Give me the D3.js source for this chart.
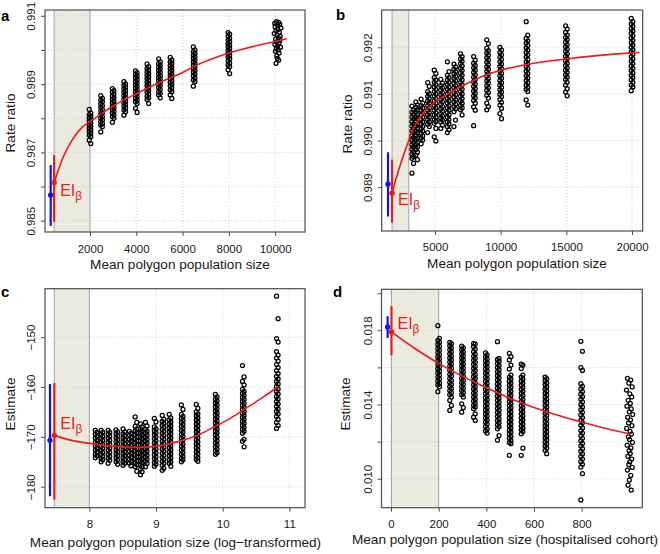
<!DOCTYPE html>
<html><head><meta charset="utf-8">
<script src="https://cdn.jsdelivr.net/npm/d3@7"></script>
<style>body{margin:0;background:#fff}svg{display:block}</style>
</head><body>
<svg id="chart" width="660" height="554"></svg>
<script>
// ---------------- DATA ----------------
// Panel a
const aX = [2000, 2500, 3000, 3500, 4000, 4500, 5000, 5500, 6500, 8000,
  [10050,10150,9980,10200,10100,10000,10250,10120,10040,10180,9960,10080,10220,10140,10020,10200,10060,10160,9990,10110,10230,10050,10130,10010,10170,10070,10090,10150,10040]];
const aY = [
  [0.98826,0.98815,0.98811,0.98806,0.98801,0.98796,0.98791,0.98786,0.98781,0.98776,0.98771,0.98766,0.98761,0.98756,0.98751,0.98746,0.98736,0.98726],
  [0.98866,0.98858,0.98853,0.98848,0.98842,0.98837,0.98832,0.98826,0.98821,0.98816,0.98811,0.98805,0.988,0.98795,0.9879,0.98785,0.9878,0.98775,0.9876],
  [0.98887,0.98881,0.98876,0.98871,0.98865,0.9886,0.98855,0.9885,0.98845,0.9884,0.98835,0.9883,0.98825,0.9882,0.98815,0.9881,0.98805,0.988,0.98788],
  [0.98907,0.98901,0.98896,0.98891,0.98886,0.98881,0.98876,0.98871,0.98866,0.9886,0.98855,0.9885,0.98845,0.9884,0.98835,0.9883,0.98824,0.98819,0.98809],
  [0.98939,0.98933,0.98928,0.98923,0.98918,0.98913,0.98908,0.98903,0.98898,0.98893,0.98888,0.98883,0.98878,0.98873,0.98868,0.98863,0.98858,0.98853,0.98848,0.98843,0.98829,0.98817],
  [0.98959,0.98951,0.98946,0.98941,0.98936,0.98931,0.98926,0.98921,0.98916,0.98911,0.98906,0.98901,0.98896,0.98891,0.98886,0.98881,0.98876,0.9887,0.98865,0.9886,0.98855,0.98843],
  [0.98974,0.98965,0.9896,0.98955,0.9895,0.98945,0.9894,0.98935,0.9893,0.98925,0.9892,0.98915,0.9891,0.98905,0.989,0.98895,0.9889,0.98884,0.98878,0.98873,0.98868,0.9886],
  [0.98978,0.9897,0.98965,0.9896,0.98955,0.9895,0.98945,0.9894,0.98935,0.9893,0.98925,0.9892,0.98915,0.9891,0.98905,0.989,0.98895,0.98889,0.98883,0.98878,0.98868,0.98858],
  [0.99009,0.99,0.98995,0.9899,0.98985,0.9898,0.98975,0.9897,0.98965,0.9896,0.98955,0.9895,0.98945,0.9894,0.98935,0.9893,0.98924,0.98918,0.98912,0.98907,0.98894],
  [0.99051,0.99046,0.9904,0.99034,0.99029,0.99024,0.99019,0.99014,0.99009,0.99004,0.98999,0.98994,0.98989,0.98984,0.98979,0.98974,0.98968,0.98962,0.98956,0.98951,0.98942,0.98931],
  [0.99083,0.99081,0.99078,0.99076,0.99072,0.99068,0.99064,0.9906,0.99056,0.99052,0.99048,0.99044,0.9904,0.99036,0.99032,0.99028,0.99024,0.9902,0.99016,0.99012,0.99008,0.99004,0.99,0.98996,0.98991,0.98983,0.98975,0.9897,0.98961]
];
const aCurve = [[450,0.98612],[844,0.98687],[1276,0.98741],[1712,0.98777],[2000,0.9879],[3000,0.98836],[4000,0.98872],[5000,0.98905],[6000,0.98934],[6500,0.98952],[8000,0.98991],[10000,0.99025],[10500,0.99033]];
const aRed = [450, 0.98612, 0.98497, 0.98692];   // x, estimate, low, high
const aBlue = [300, 0.98575, 0.98485, 0.98663];
const aShade = [450, 2000];
const aXTicks = [2000, 4000, 6000, 8000, 10000];
const aYTicks = [0.985, 0.986, 0.987, 0.988, 0.989, 0.990, 0.991];
const aYLabels = [0.985, 0.987, 0.989, 0.991];

// Panel b
const bX = [3300, 3600, 4000, 4500, 5000, 5500, 6000, 6500, 7000, 8000, 9000, 10000, 12000, 15000, 20000];
const bY = [
  [0.99074,0.99066,0.99061,0.99056,0.99051,0.99046,0.99041,0.99036,0.99031,0.99026,0.99021,0.99016,0.99011,0.99006,0.99001,0.98996,0.98991,0.98986,0.98981,0.98976,0.98971,0.98966,0.98962,0.98951,0.9893],
  [0.99083,0.99076,0.99071,0.99066,0.99061,0.99056,0.99051,0.99046,0.99041,0.99036,0.99031,0.99026,0.99021,0.99016,0.99011,0.99006,0.99001,0.98996,0.98991,0.98986,0.98981,0.98975,0.98969,0.98959],
  [0.99089,0.9908,0.99075,0.9907,0.99065,0.9906,0.99055,0.9905,0.99045,0.9904,0.99035,0.9903,0.99025,0.9902,0.99015,0.9901,0.99005,0.99001,0.98993],
  [0.99124,0.99116,0.99105,0.991,0.99095,0.9909,0.99085,0.9908,0.99075,0.9907,0.99065,0.9906,0.99055,0.9905,0.99045,0.9904,0.99035,0.9903,0.99017],
  [0.99151,0.99144,0.99135,0.9913,0.99125,0.9912,0.99115,0.9911,0.99105,0.991,0.99095,0.9909,0.99085,0.9908,0.99075,0.9907,0.99065,0.9906,0.99055,0.9905,0.99045,0.99041,0.99037,0.99026,0.99008,0.98999],
  [0.99131,0.99123,0.99118,0.99113,0.99108,0.99103,0.99098,0.99093,0.99088,0.99083,0.99078,0.99073,0.99068,0.99063,0.99058,0.99053,0.99048,0.99044,0.9904,0.99033,0.99026],
  [0.99169,0.99148,0.9914,0.99135,0.9913,0.99125,0.9912,0.99115,0.9911,0.99105,0.991,0.99095,0.9909,0.99085,0.9908,0.99075,0.9907,0.99065,0.9906,0.99055,0.9905,0.99045,0.9904,0.99035,0.9903,0.99023,0.99017],
  [0.99164,0.99158,0.99153,0.99148,0.99143,0.99138,0.99133,0.99128,0.99123,0.99118,0.99113,0.99108,0.99103,0.99098,0.99093,0.99088,0.99083,0.99078,0.99073,0.99068,0.99062,0.99044,0.9903],
  [0.99186,0.9918,0.99175,0.9917,0.99165,0.9916,0.99155,0.9915,0.99145,0.9914,0.99135,0.9913,0.99125,0.9912,0.99115,0.9911,0.99105,0.991,0.99095,0.9909,0.99085,0.9908,0.99075,0.9907,0.99066,0.99055],
  [0.9918,0.99172,0.99166,0.99161,0.99156,0.99151,0.99146,0.99141,0.99136,0.99131,0.99126,0.99121,0.99116,0.99111,0.99106,0.99101,0.99096,0.99091,0.99086,0.9908,0.99072,0.99065,0.99032],
  [0.99216,0.99208,0.99198,0.99193,0.99188,0.99183,0.99178,0.99173,0.99168,0.99163,0.99158,0.99153,0.99148,0.99143,0.99138,0.99133,0.99128,0.99123,0.99118,0.99113,0.99108,0.99103,0.99097,0.99091,0.9908,0.99073,0.99066],
  [0.992,0.99194,0.99189,0.99184,0.99179,0.99174,0.99169,0.99164,0.99159,0.99154,0.99149,0.99144,0.99139,0.99134,0.99129,0.99124,0.99119,0.99114,0.99109,0.99104,0.99099,0.99094,0.99088,0.99082,0.99076,0.99069,0.99058,0.99047],
  [0.99255,0.99226,0.99219,0.99214,0.99209,0.99204,0.99199,0.99194,0.99189,0.99184,0.99179,0.99174,0.99169,0.99164,0.99159,0.99154,0.99149,0.99144,0.99139,0.99134,0.99129,0.99124,0.99119,0.99114,0.9911,0.99105,0.99087,0.99076],
  [0.99246,0.99239,0.99232,0.99226,0.99221,0.99216,0.99211,0.99206,0.99201,0.99196,0.99191,0.99186,0.99181,0.99176,0.99171,0.99166,0.99161,0.99156,0.99151,0.99146,0.99141,0.99136,0.99131,0.99125,0.99119,0.99111,0.99104,0.99096],
  [0.99262,0.99255,0.9925,0.99245,0.9924,0.99235,0.9923,0.99225,0.9922,0.99215,0.9921,0.99205,0.992,0.99195,0.9919,0.99185,0.9918,0.99175,0.9917,0.99165,0.9916,0.99155,0.9915,0.99145,0.9914,0.99135,0.9913,0.99125,0.99119,0.99115,0.99107]
];
const bCurve = [[1726,0.98887],[2000,0.98915],[2400,0.98952],[2717,0.98978],[3000,0.99],[3272,0.99021],[3935,0.99052],[5000,0.99083],[6000,0.991],[7000,0.99116],[8000,0.9913],[9000,0.99142],[10000,0.99151],[12000,0.99163],[15000,0.99175],[20000,0.99188],[20550,0.99189]];
const bRed = [1726, 0.98887, 0.98824, 0.98959];
const bBlue = [1421, 0.98907, 0.98837, 0.98975];
const bShade = [1726, 3000];
const bXTicks = [5000, 10000, 15000, 20000];
const bYTicks = [0.989, 0.990, 0.991, 0.992];
const bYLabels = [0.989, 0.990, 0.991, 0.992];

// Panel c (x = log of mean polygon population size)
const cPop = [3300, 3600, 4000, 4500, 5000, 5500, 6000, 6500, 7000, 8000, 9000, 10000, 12000, 15000, 20000, 30000, 50000];
const cY = [
  [-168.7,-169.1,-169.5,-169.9,-170.3,-170.7,-171.1,-171.5,-171.9,-172.3,-172.7,-173.1,-173.5,-173.8,-174.2],
  [-168.7,-169.1,-169.5,-169.9,-170.3,-170.7,-171.1,-171.5,-171.9,-172.3,-172.7,-173.1,-173.5,-173.9,-174.3,-174.6,-175.0],
  [-168.7,-169.1,-169.5,-169.9,-170.3,-170.7,-171.1,-171.5,-171.9,-172.3,-172.7,-173.1,-173.5,-173.9,-174.3,-174.7,-175.3],
  [-168.6,-169.0,-169.4,-169.8,-170.2,-170.6,-171.0,-171.4,-171.8,-172.2,-172.6,-173.0,-173.4,-173.8,-174.2,-174.6,-175.0,-175.5],
  [-168.4,-169.0,-169.4,-169.8,-170.2,-170.6,-171.0,-171.4,-171.8,-172.2,-172.6,-173.0,-173.4,-173.8,-174.2,-174.6,-175.0,-175.3,-175.7],
  [-168.9,-169.3,-169.7,-170.1,-170.5,-170.9,-171.3,-171.7,-172.1,-172.5,-172.9,-173.3,-173.7,-174.1,-174.5,-174.9,-175.3,-175.8],
  [-166.0,-167.1,-167.9,-168.4,-168.8,-169.2,-169.6,-170.0,-170.4,-170.8,-171.2,-171.6,-172.0,-172.4,-172.8,-173.2,-173.6,-174.0,-174.4,-174.8,-175.2,-175.6,-176.0,-176.9],
  [-167.4,-168.0,-168.4,-168.8,-169.2,-169.6,-170.0,-170.4,-170.8,-171.2,-171.6,-172.0,-172.4,-172.8,-173.2,-173.6,-174.0,-174.4,-174.8,-175.2,-175.6,-176.0,-176.5,-177.0,-177.6],
  [-167.1,-167.8,-168.5,-168.9,-169.3,-169.7,-170.1,-170.5,-170.9,-171.3,-171.7,-172.1,-172.5,-172.9,-173.3,-173.7,-174.1,-174.5,-174.9,-175.3,-176.0],
  [-166.3,-167.0,-168.0,-168.4,-168.8,-169.2,-169.6,-170.0,-170.4,-170.8,-171.2,-171.6,-172.0,-172.4,-172.8,-173.2,-173.6,-174.0,-174.4,-174.8,-175.2,-175.5,-175.9],
  [-165.7,-166.5,-166.9,-167.3,-167.7,-168.1,-168.5,-168.9,-169.3,-169.7,-170.1,-170.5,-170.9,-171.3,-171.7,-172.1,-172.5,-172.9,-173.3,-173.7,-174.1,-174.5,-174.9,-175.3,-175.7,-176.3,-176.7],
  [-165.5,-166.2,-166.6,-167.0,-167.4,-167.8,-168.2,-168.6,-169.0,-169.4,-169.8,-170.2,-170.6,-171.0,-171.4,-171.8,-172.2,-172.6,-173.0,-173.4,-173.8,-174.2,-174.6,-175.0,-175.3,-175.9],
  [-163.6,-164.5,-165.5,-165.9,-166.3,-166.7,-167.1,-167.5,-167.9,-168.3,-168.7,-169.1,-169.5,-169.9,-170.3,-170.7,-171.1,-171.5,-171.9,-172.3,-172.7,-173.1,-173.5,-173.9,-174.3,-174.6,-175.0],
  [-163.5,-164.3,-165.0,-165.4,-165.8,-166.2,-166.6,-167.0,-167.4,-167.8,-168.2,-168.6,-169.0,-169.4,-169.8,-170.2,-170.6,-171.0,-171.4,-171.8,-172.2,-172.6,-173.0,-173.4,-173.8,-174.2,-174.5,-174.9],
  [-161.5,-162.0,-162.4,-162.8,-163.2,-163.6,-164.0,-164.4,-164.8,-165.2,-165.6,-166.0,-166.4,-166.8,-167.2,-167.6,-168.0,-168.4,-168.8,-169.2,-169.6,-170.0,-170.4,-170.8,-171.2,-171.6,-172.0,-172.4,-172.8,-173.2,-173.5],
  [-155.7,-158.0,-158.9,-159.6,-160.5,-160.9,-161.3,-161.7,-162.1,-162.5,-162.9,-163.3,-163.7,-164.1,-164.5,-164.9,-165.3,-165.7,-166.1,-166.5,-166.9,-167.3,-167.7,-168.1,-168.5,-168.9,-169.3,-170.5,-170.9,-172.0],
  [-141.8,-146.3,-150.3,-151.0,-152.9,-153.6,-154.2,-154.8,-155.5,-156.1,-156.7,-157.3,-157.9,-158.4,-158.9,-159.4,-159.9,-160.4,-160.9,-161.4,-161.9,-162.4,-162.9,-163.4,-163.9,-164.4,-164.9,-165.4,-165.9,-166.5,-167.1,-167.7,-168.3]
];
const cCurve = [[7.475,-169.7],[7.7,-170.6],[8.0,-171.3],[8.3,-171.8],[8.65,-172.1],[9.0,-171.9],[9.2,-171.4],[9.4,-170.7],[9.62,-169.7],[9.9,-167.8],[10.1,-166.4],[10.31,-164.6],[10.6,-162.1],[10.835,-159.9]];
const cRed = [7.475, -169.7, -182.6, -159.2];
const cBlue = [7.41, -170.7, -181.9, -159.4];
const cShade = [7.475, 8];
const cXTicks = [8, 9, 10, 11];
const cYTicks = [-180, -170, -160, -150];
const cYLabels = [-180, -170, -160, -150];

// Panel d
const dX = [200, 250, 300, 350, 400, 450, 500, 550, 650, 800,
  [992,1006,998,1012,988,1002,1010,995,1004,990,1008,1000,1014,993,1005,997,1011,989,1003,1009,996,1001,1013,991,1007,999,1004,994,1010,1002,998,1012,992,1006,1000,995,1008]];
const dY = [
  [0.01825,0.01757,0.01746,0.01735,0.01724,0.01713,0.01702,0.01691,0.0168,0.01669,0.01658,0.01647,0.01636,0.01625,0.01614,0.01603,0.01592,0.01581,0.0157,0.01559,0.01548,0.01537,0.01526,0.01515,0.01506,0.01496,0.01469],
  [0.01735,0.01728,0.01717,0.01706,0.01695,0.01684,0.01673,0.01662,0.01651,0.0164,0.01629,0.01618,0.01607,0.01596,0.01585,0.01574,0.01563,0.01552,0.01541,0.0153,0.01519,0.01508,0.01497,0.01486,0.01475,0.01464,0.01453,0.0144,0.01422,0.01395,0.01368],
  [0.01715,0.01706,0.01695,0.01684,0.01673,0.01662,0.01651,0.0164,0.01629,0.01618,0.01607,0.01596,0.01585,0.01574,0.01563,0.01552,0.01541,0.0153,0.01519,0.01508,0.01497,0.01486,0.01475,0.01464,0.01453,0.0144,0.01404,0.01383,0.01359],
  [0.0173,0.01725,0.01712,0.01698,0.01685,0.01672,0.0166,0.01649,0.01638,0.01627,0.01616,0.01605,0.01594,0.01583,0.01572,0.01561,0.0155,0.01539,0.01528,0.01517,0.01506,0.01495,0.01484,0.01473,0.01462,0.01451,0.0144,0.01429,0.01418,0.01407,0.01396,0.01387,0.01377,0.0135,0.01332,0.01314],
  [0.01679,0.01668,0.01657,0.01646,0.01635,0.01624,0.01613,0.01602,0.01591,0.0158,0.01569,0.01558,0.01547,0.01536,0.01525,0.01514,0.01503,0.01492,0.01481,0.0147,0.01459,0.01448,0.01437,0.01426,0.01415,0.01404,0.01393,0.01382,0.01371,0.0136,0.01349,0.01338,0.01327,0.01316,0.01305,0.01294,0.01282,0.01269,0.01258,0.01246],
  [0.01739,0.01649,0.01643,0.01632,0.01621,0.0161,0.01599,0.01588,0.01577,0.01566,0.01555,0.01544,0.01533,0.01522,0.01511,0.015,0.01489,0.01478,0.01467,0.01456,0.01445,0.01434,0.01423,0.01412,0.01401,0.0139,0.01379,0.01368,0.01357,0.01346,0.01335,0.01324,0.01313,0.01302,0.01291,0.0128,0.01269,0.01233,0.01208],
  [0.01676,0.01658,0.0164,0.01613,0.01591,0.01559,0.01548,0.01537,0.01526,0.01515,0.01504,0.01493,0.01482,0.01471,0.0146,0.01449,0.01438,0.01427,0.01416,0.01405,0.01394,0.01383,0.01372,0.01361,0.0135,0.01339,0.01328,0.01317,0.01306,0.01295,0.01284,0.01273,0.01262,0.01251,0.0124,0.01229,0.01218,0.01207,0.01196,0.01189,0.01126],
  [0.01618,0.01612,0.01594,0.01559,0.01548,0.01537,0.01526,0.01515,0.01504,0.01493,0.01482,0.01471,0.0146,0.01449,0.01438,0.01427,0.01416,0.01405,0.01394,0.01383,0.01372,0.01361,0.0135,0.01339,0.01328,0.01317,0.01306,0.01295,0.01284,0.01273,0.01264,0.01255,0.01242,0.01165,0.01126],
  [0.01548,0.01539,0.01528,0.01517,0.01506,0.01495,0.01484,0.01473,0.01462,0.01451,0.0144,0.01429,0.01418,0.01407,0.01396,0.01385,0.01374,0.01363,0.01352,0.01341,0.0133,0.01319,0.01308,0.01297,0.01286,0.01275,0.01264,0.01253,0.01242,0.01231,0.0122,0.01209,0.01198,0.01187,0.01176,0.01165,0.01153,0.01135],
  [0.01741,0.01687,0.01599,0.01584,0.01512,0.01498,0.01484,0.0147,0.01456,0.01442,0.01428,0.01414,0.014,0.01386,0.01372,0.01358,0.01344,0.0133,0.01316,0.01302,0.01288,0.01274,0.0126,0.01246,0.01232,0.01218,0.01204,0.0119,0.01176,0.01162,0.01148,0.01134,0.0112,0.01106,0.01092,0.01078,0.01063,0.01027,0.00886],
  [0.01541,0.01532,0.01515,0.01495,0.01478,0.01458,0.01441,0.01423,0.01406,0.01391,0.01376,0.01361,0.01346,0.01331,0.01316,0.01301,0.01286,0.01271,0.01256,0.01241,0.01226,0.01211,0.01196,0.01181,0.01166,0.01151,0.01136,0.01121,0.01106,0.01091,0.01076,0.01061,0.01047,0.01018,0.00993,0.00965,0.00939]
];
const dCurve = [[2,0.01791],[100,0.01702],[200,0.01622],[300,0.01553],[400,0.0149],[500,0.01433],[600,0.01384],[700,0.01342],[800,0.01306],[900,0.01272],[1003,0.01241]];
const dRed = [2, 0.01791, 0.01665, 0.0193];
const dBlue = [-14, 0.01818, 0.01759, 0.01876];
const dShade = [2, 200];
const dXTicks = [0, 200, 400, 600, 800];
const dYTicks = [0.010, 0.012, 0.014, 0.016, 0.018, 0.020];
const dYLabels = [0.010, 0.014, 0.018];

// ---------------- DRAWING ----------------
const svg = d3.select('#chart');
const FONT = '"Liberation Sans", Arial, Helvetica, sans-serif';
const RED = '#ee1a1a', BLUE = '#1010f5', TEXT = '#1a1a1a';

function drawPanel(p) {
  const [L, R, T, B] = p.box;
  const x = d3.scaleLinear().domain(p.xd).range([L, R]);
  const y = d3.scaleLinear().domain(p.yd).range([B, T]);
  const g = svg.append('g');

  // shaded band
  g.append('rect').attr('x', x(p.shade[0])).attr('y', T)
    .attr('width', x(p.shade[1]) - x(p.shade[0])).attr('height', B - T)
    .attr('fill', '#ebeadf');

  // grid
  const grid = g.append('g').attr('stroke', '#cfcfcf').attr('stroke-dasharray', '1,2').attr('stroke-width', 1);
  grid.selectAll('.gx').data(p.xt).join('line').attr('class', 'gx')
    .attr('x1', d => x(d)).attr('x2', d => x(d)).attr('y1', T).attr('y2', B);
  grid.selectAll('.gy').data(p.yt).join('line').attr('class', 'gy')
    .attr('x1', L).attr('x2', R).attr('y1', d => y(d)).attr('y2', d => y(d));

  // band borders
  g.selectAll('.sb').data(p.shade).join('line').attr('class', 'sb')
    .attr('x1', d => x(d)).attr('x2', d => x(d)).attr('y1', T).attr('y2', B)
    .attr('stroke', '#a5a5a5').attr('stroke-width', 1);

  // points (columns of overlapping open circles; slight alternate offset widens the stacks)
  const pts = [];
  p.cols.forEach((c, i) => p.vals[i].forEach((v, j) => {
    const wide = Array.isArray(c);
    const xv = wide ? c[j % c.length] : c;
    pts.push({x: p.tx ? p.tx(xv) : xv, y: v, dx: wide ? 0 : (j % 2 ? 0.8 : -0.8)});
  }));
  g.append('g').selectAll('circle').data(pts).join('circle')
    .attr('cx', d => x(d.x) + d.dx).attr('cy', d => y(d.y)).attr('r', 2.0)
    .attr('fill', 'none').attr('stroke', '#000').attr('stroke-width', 1.25);

  // fitted curve
  g.append('path').datum(p.curve)
    .attr('d', d3.line().x(d => x(d[0])).y(d => y(d[1])).curve(d3.curveMonotoneX))
    .attr('fill', 'none').attr('stroke', RED).attr('stroke-width', 1.6);

  // estimates with intervals
  [[p.blue, BLUE], [p.red, RED]].forEach(([e, col]) => {
    g.append('line').attr('x1', x(e[0])).attr('x2', x(e[0])).attr('y1', y(e[2])).attr('y2', y(e[3]))
      .attr('stroke', col).attr('stroke-width', 2.2);
    g.append('circle').attr('cx', x(e[0])).attr('cy', y(e[1])).attr('r', 2.7).attr('fill', col);
  });

  // EI label
  const t = g.append('text').attr('x', x(p.red[0]) + 6).attr('y', y(p.red[1]) + p.eiDy)
    .attr('fill', RED).style('font-family', FONT).style('font-size', '16px');
  t.append('tspan').text('EI');
  t.append('tspan').attr('dy', 4).style('font-size', '12px').text('β');

  // box
  g.append('rect').attr('x', L).attr('y', T).attr('width', R - L).attr('height', B - T)
    .attr('fill', 'none').attr('stroke', '#4d4d4d').attr('stroke-width', 1.2);

  // axes
  const ax = g.append('g').attr('transform', `translate(0,${B})`)
    .call(d3.axisBottom(x).tickValues(p.xt).tickSize(4).tickPadding(p.xpad).tickFormat(d3.format('d')));
  ax.select('.domain').remove();
  ax.selectAll('line').attr('stroke', '#4d4d4d');
  ax.selectAll('text').attr('fill', TEXT).style('font-family', FONT).style('font-size', '11.5px');

  const labelSet = new Set(p.ylab);
  const ay = g.append('g').attr('transform', `translate(${L},0)`)
    .call(d3.axisLeft(y).tickValues(p.yt).tickSize(4).tickFormat(d => labelSet.has(d) ? p.yf(d) : ''));
  ay.select('.domain').remove();
  ay.selectAll('line').attr('stroke', '#4d4d4d');
  ay.selectAll('text').attr('x', null).attr('dy', null).attr('text-anchor', 'middle')
    .attr('transform', 'translate(-10,0) rotate(-90)')
    .attr('fill', TEXT).style('font-family', FONT).style('font-size', '11.5px');

  // titles
  g.append('text').attr('x', p.xTitle[0]).attr('y', p.xTitle[1]).attr('text-anchor', 'middle')
    .attr('fill', TEXT).style('font-family', FONT).style('font-size', '13.6px').text(p.xlab);
  g.append('text').attr('transform', `translate(${p.yTitle[0]},${p.yTitle[1]}) rotate(-90)`)
    .attr('text-anchor', 'middle').attr('fill', TEXT)
    .style('font-family', FONT).style('font-size', '13.6px').text(p.ylabTitle);

  // panel letter
  g.append('text').attr('x', p.letter[0]).attr('y', p.letter[1]).attr('fill', '#000')
    .style('font-family', FONT).style('font-size', '15px').style('font-weight', 'bold').text(p.id);
}

const f3 = d3.format('.3f');
drawPanel({id: 'a', box: [45, 305, 10, 232], xd: [55, 11290], yd: [0.98467, 0.99117],
  cols: aX, vals: aY, curve: aCurve, red: aRed, blue: aBlue, shade: aShade,
  xt: aXTicks, yt: aYTicks, ylab: aYLabels, yf: f3, xpad: 9, eiDy: 14,
  xlab: 'Mean polygon population size', ylabTitle: 'Rate ratio',
  xTitle: [180, 268.5], yTitle: [15, 123], letter: [1, 20.5]});

drawPanel({id: 'b', box: [381.7, 642.7, 10, 231], xd: [939, 20812], yd: [0.98806, 0.9928],
  cols: bX, vals: bY, curve: bCurve, red: bRed, blue: bBlue, shade: bShade,
  xt: bXTicks, yt: bYTicks, ylab: bYLabels, yf: f3, xpad: 8, eiDy: 12,
  xlab: 'Mean polygon population size', ylabTitle: 'Rate ratio',
  xTitle: [517, 268], yTitle: [351.7, 124], letter: [336, 20]});

drawPanel({id: 'c', box: [45, 305, 288.7, 507.7], xd: [7.335, 11.235], yd: [-184.2, -140.3],
  cols: cPop, tx: Math.log, vals: cY, curve: cCurve, red: cRed, blue: cBlue, shade: cShade,
  xt: cXTicks, yt: cYTicks, ylab: cYLabels, yf: d3.format('d'), xpad: 8, eiDy: -6,
  xlab: 'Mean polygon population size (log\u2212transformed)', ylabTitle: 'Estimate',
  xTitle: [175.5, 547], yTitle: [15, 404], letter: [1, 297]});

drawPanel({id: 'd', box: [381.5, 642.3, 289.3, 507.7], xd: [-39.8, 1054.5], yd: [0.00844, 0.02021],
  cols: dX, vals: dY, curve: dCurve, red: dRed, blue: dBlue, shade: dShade,
  xt: dXTicks, yt: dYTicks, ylab: dYLabels, yf: f3, xpad: 8, eiDy: -3,
  xlab: 'Mean polygon population size (hospitalised cohort)', ylabTitle: 'Estimate',
  xTitle: [505, 544], yTitle: [350, 404], letter: [333, 297]});
</script>
</body></html>
